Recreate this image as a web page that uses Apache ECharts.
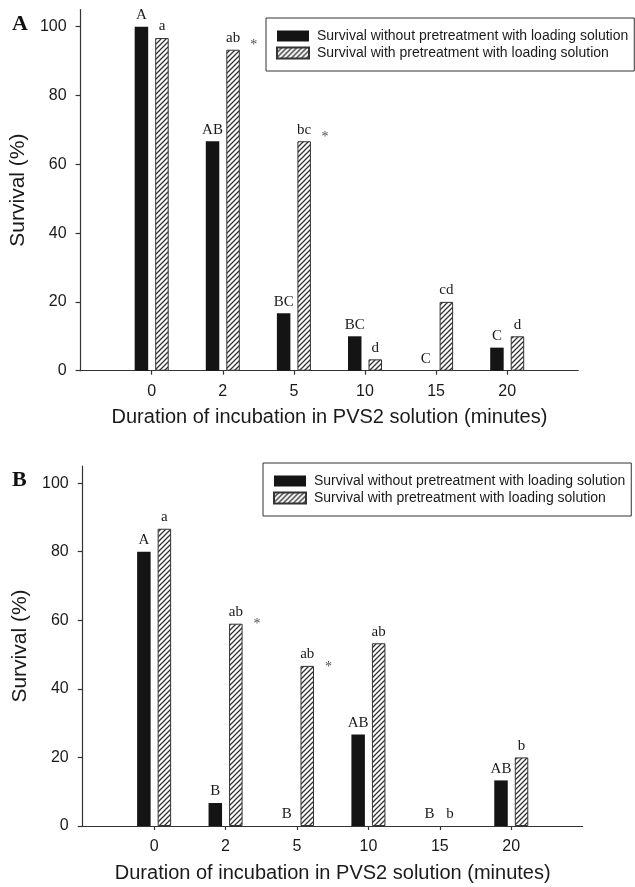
<!DOCTYPE html>
<html><head><meta charset="utf-8">
<script src="https://cdn.jsdelivr.net/npm/echarts@6/dist/echarts.min.js"></script>
<style>html,body{margin:0;padding:0;background:#fff}#c{width:635px;height:887px}</style>
</head><body><div id="c"></div>
<script>
// ---- data ----
const categories = ['0', '2', '5', '10', '15', '20'];
const yTicks = [0, 20, 40, 60, 80, 100];
const nameNo = 'Survival without pretreatment with loading solution';
const nameYes = 'Survival with pretreatment with loading solution';
const xTitle = 'Duration of incubation in PVS2 solution (minutes)';
const yTitle = 'Survival (%)';

const aWithout = [100, 66.7, 16.7, 10, 0, 6.7];
const aWith = [96.7, 93.3, 66.7, 3.3, 20, 10];
const aLettersWithout = ['A', 'AB', 'BC', 'BC', 'C', 'C'];
const aLettersWith = ['a', 'ab', 'bc', 'd', 'cd', 'd'];
const aStars = [false, true, true, false, false, false];

const bWithout = [80, 6.7, 0, 26.7, 0, 13.3];
const bWith = [86.7, 59, 46.7, 53.3, 0, 20];
const bLettersWithout = ['A', 'B', 'B', 'AB', 'B', 'AB'];
const bLettersWith = ['a', 'ab', 'ab', 'ab', 'b', 'b'];
const bStars = [false, true, true, false, false, false];

// ---- style ----
const SANS = '"Liberation Sans", Arial, sans-serif';
const SERIF = '"Liberation Serif", "Times New Roman", serif';
const TXT = '#1a1a1a';
const AX = '#333';

function hatchCanvas() {
  const s = 5;
  const c = document.createElement('canvas');
  c.width = s; c.height = s;
  const g = c.getContext('2d');
  g.fillStyle = '#fff'; g.fillRect(0, 0, s, s);
  g.strokeStyle = '#333'; g.lineWidth = 1.3;
  g.beginPath();
  g.moveTo(-1, s + 1); g.lineTo(s + 1, -1);
  g.moveTo(-1, 1); g.lineTo(1, -1);
  g.moveTo(s - 1, s + 1); g.lineTo(s + 1, s - 1);
  g.stroke();
  return c;
}
const hatch = { image: hatchCanvas(), repeat: 'repeat' };

const chart = echarts.init(document.getElementById('c'), null, { renderer: 'canvas' });

function xAxisDef(gi) {
  return {
    gridIndex: gi, type: 'value', min: -1, max: 6, interval: 1,
    axisLine: { onZero: false, lineStyle: { color: AX, width: 1.2 } },
    axisTick: { customValues: [0, 1, 2, 3, 4, 5], length: 4, lineStyle: { color: AX, width: 1.2 } },
    axisLabel: { customValues: [0, 1, 2, 3, 4, 5], formatter: v => categories[v], margin: 13,
      fontSize: 16, color: TXT, fontFamily: SANS },
    splitLine: { show: false },
    name: xTitle, nameLocation: 'middle', nameGap: 37,
    nameTextStyle: { fontSize: 20, color: TXT, fontFamily: SANS }
  };
}
function yAxisDef(gi) {
  return {
    gridIndex: gi, type: 'value', min: 0, max: 105, interval: 20,
    axisLine: { show: true, onZero: false, lineStyle: { color: AX, width: 1.2 } },
    axisTick: { show: true, customValues: yTicks, length: 5, lineStyle: { color: AX, width: 1.2 } },
    axisLabel: { customValues: yTicks, margin: 14, fontSize: 16, color: TXT, fontFamily: SANS },
    splitLine: { show: false },
    name: yTitle, nameLocation: 'middle', nameGap: 49, nameRotate: 90,
    nameTextStyle: { fontSize: 21, color: TXT, fontFamily: SANS }
  };
}
function barLabel(letters) {
  return { show: true, position: 'top', distance: 4, formatter: p => letters[p.dataIndex],
    fontFamily: SERIF, fontSize: 15, color: TXT };
}
function bars(gi, without, withV, lw, lwi) {
  return [
    { type: 'bar', name: nameNo, xAxisIndex: gi, yAxisIndex: gi, barWidth: 13.5, barGap: '52%',
      data: without.map((v, i) => [i, v]), itemStyle: { color: '#141414' }, label: barLabel(lw) },
    { type: 'bar', name: nameYes, xAxisIndex: gi, yAxisIndex: gi, barWidth: 13.5, barGap: '52%',
      data: withV.map((v, i) => (v === 0 ? { value: [i, v], itemStyle: { borderWidth: 0 } } : [i, v])),
      itemStyle: { color: hatch, borderColor: AX, borderWidth: 1 }, label: barLabel(lwi) }
  ];
}
function stars(gi, withV, flags, off) {
  const d = [];
  flags.forEach((f, i) => { if (f) d.push([i, withV[i]]); });
  return { type: 'scatter', xAxisIndex: gi, yAxisIndex: gi, symbolSize: 0, data: d, silent: true,
    label: { show: true, position: 'inside', formatter: '*', offset: off, fontFamily: SERIF, fontSize: 14, color: TXT } };
}
function legendDef(left, top) {
  return {
    data: [nameNo, nameYes], orient: 'vertical', left: left, top: top,
    padding: [10, 6, 10, 10], itemGap: 1, itemWidth: 32, itemHeight: 11, icon: 'rect',
    backgroundColor: '#fff', borderColor: AX, borderWidth: 1, selectedMode: false,
    textStyle: { fontSize: 14, lineHeight: 16, color: TXT, fontFamily: SANS, padding: [0, 0, 0, 3] }
  };
}

const option = {
  animation: false,
  backgroundColor: '#fff',
  grid: [
    { left: 78, top: 9.5, width: 500.3, height: 361.2 },
    { left: 82.7, top: 466, width: 500, height: 360 }
  ],
  xAxis: [xAxisDef(0), xAxisDef(1)],
  yAxis: [yAxisDef(0), yAxisDef(1)],
  legend: [legendDef(266, 18), legendDef(263, 463)],
  graphic: [
    { type: 'text', left: 12, top: 13, style: { text: 'A', font: 'bold 22px ' + SERIF, fill: '#111' } },
    { type: 'text', left: 12, top: 469, style: { text: 'B', font: 'bold 22px ' + SERIF, fill: '#111' } }
  ],
  series: [
    ...bars(0, aWithout, aWith, aLettersWithout, aLettersWith),
    stars(0, aWith, aStars, [31, -4]),
    ...bars(1, bWithout, bWith, bLettersWithout, bLettersWith),
    stars(1, bWith, bStars, [31.5, 1])
  ]
};
chart.setOption(option);
</script>
</body></html>
